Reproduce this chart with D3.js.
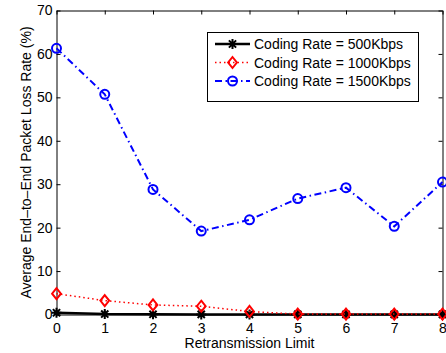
<!DOCTYPE html>
<html>
<head>
<meta charset="utf-8">
<script src="https://cdn.jsdelivr.net/npm/d3@7/dist/d3.min.js"></script>
<style>
  html, body { margin: 0; padding: 0; background: #fff; }
  svg { display: block; font-family: "Liberation Sans", Arial, Helvetica, sans-serif; }
</style>
</head>
<body>
<svg id="chart" width="446" height="353"></svg>
<script>
// Retransmission limits on the x axis
const limits = [0, 1, 2, 3, 4, 5, 6, 7, 8];
// Average end-to-end packet loss rate (%) per coding rate
const rate500 = [0.4, 0.1, 0.05, 0.02, 0.02, 0.02, 0.02, 0.02, 0.02];
const rate1000 = [4.8, 3.2, 2.2, 1.9, 0.7, 0.1, 0.1, 0.1, 0.1];
const rate1500 = [61.3, 50.7, 28.8, 19.2, 21.8, 26.7, 29.2, 20.3, 30.5];
const seriesNames = ["Coding Rate = 500Kbps", "Coding Rate = 1000Kbps", "Coding Rate = 1500Kbps"];
const yTicks = [0, 10, 20, 30, 40, 50, 60, 70];

const svg = d3.select("#chart");
const m = { left: 56.5, right: 442.5, top: 10.5, bottom: 314.5 };

const x = d3.scaleLinear().domain([0, 8]).range([m.left, m.right]);
const y = d3.scaleLinear().domain([0, 70]).range([m.bottom, m.top]);

const tickLen = 4;
// Axes (MATLAB style: inward ticks, box on)
const gx = svg.append("g").attr("transform", `translate(0,${m.bottom})`)
  .call(d3.axisBottom(x).tickValues(limits).tickFormat(d3.format("d")).tickSizeInner(-tickLen).tickSizeOuter(0).tickPadding(9));
const gy = svg.append("g").attr("transform", `translate(${m.left},0)`)
  .call(d3.axisLeft(y).tickValues(yTicks).tickSizeInner(-tickLen).tickSizeOuter(0).tickPadding(4));
const gxt = svg.append("g").attr("transform", `translate(0,${m.top})`)
  .call(d3.axisTop(x).tickValues(limits).tickFormat("").tickSizeInner(-tickLen).tickSizeOuter(0));
const gyr = svg.append("g").attr("transform", `translate(${m.right},0)`)
  .call(d3.axisRight(y).tickValues(yTicks).tickFormat("").tickSizeInner(-tickLen).tickSizeOuter(0));

[gx, gy, gxt, gyr].forEach(g => {
  g.select(".domain").attr("stroke", "#000").attr("stroke-width", 1);
  g.selectAll(".tick line").attr("stroke", "#000");
  g.selectAll(".tick text").attr("fill", "#000").style("font-size", "14px").style("font-family", "Liberation Sans, Arial, sans-serif");
});

// Axis titles
svg.append("text")
  .attr("x", (m.left + m.right) / 2).attr("y", 348)
  .attr("text-anchor", "middle").style("font-size", "14px").text("Retransmission Limit");
svg.append("text")
  .attr("transform", `translate(31,${(m.top + m.bottom) / 2}) rotate(-90)`)
  .attr("text-anchor", "middle").style("font-size", "14px")
  .text("Average End\u2013to\u2013End Packet Loss Rate (%)");

const line = d3.line().x((d, i) => x(limits[i])).y(d => y(d));

// Marker drawers
function asterisk(g, cx, cy, r, color) {
  const p = d3.path();
  p.moveTo(cx - r, cy); p.lineTo(cx + r, cy);
  p.moveTo(cx, cy - r); p.lineTo(cx, cy + r);
  const d = r * 0.72;
  p.moveTo(cx - d, cy - d); p.lineTo(cx + d, cy + d);
  p.moveTo(cx - d, cy + d); p.lineTo(cx + d, cy - d);
  g.append("path").attr("d", p.toString()).attr("stroke", color).attr("stroke-width", 2).attr("fill", "none");
}
function diamond(g, cx, cy, r, color) {
  g.append("path").attr("d", `M${cx},${cy - r}L${cx + r * 0.8},${cy}L${cx},${cy + r}L${cx - r * 0.8},${cy}Z`)
    .attr("stroke", color).attr("stroke-width", 2).attr("fill", "none");
}
function circle(g, cx, cy, r, color) {
  g.append("circle").attr("cx", cx).attr("cy", cy).attr("r", r)
    .attr("stroke", color).attr("stroke-width", 2).attr("fill", "none");
}

const series = [
  { values: rate500, color: "#000", width: 2.5, dash: null, marker: asterisk, size: 5 },
  { values: rate1000, color: "#ff0000", width: 1.5, dash: "1.5,3", marker: diamond, size: 5.5 },
  { values: rate1500, color: "#0000ff", width: 2, dash: "7,3.5,1.5,3.5", marker: circle, size: 4.5 }
];

const plot = svg.append("g");
series.forEach(s => {
  plot.append("path").datum(s.values).attr("d", line)
    .attr("fill", "none").attr("stroke", s.color).attr("stroke-width", s.width)
    .attr("stroke-dasharray", s.dash);
  const mg = plot.append("g");
  s.values.forEach((v, i) => s.marker(mg, x(limits[i]), y(v), s.size, s.color));
});

// Legend
const lg = svg.append("g");
lg.append("rect").attr("x", 207.5).attr("y", 32.5).attr("width", 211).attr("height", 69)
  .attr("fill", "#fff").attr("stroke", "#000").attr("stroke-width", 1);
series.forEach((s, i) => {
  const cy = 44 + i * 18.5;
  lg.append("line").attr("x1", 215).attr("x2", 250).attr("y1", cy).attr("y2", cy)
    .attr("stroke", s.color).attr("stroke-width", s.width).attr("stroke-dasharray", s.dash);
  s.marker(lg, 232.5, cy, s.size, s.color);
  lg.append("text").attr("x", 254).attr("y", cy + 5).style("font-size", "14px").text(seriesNames[i]);
});
</script>
</body>
</html>
